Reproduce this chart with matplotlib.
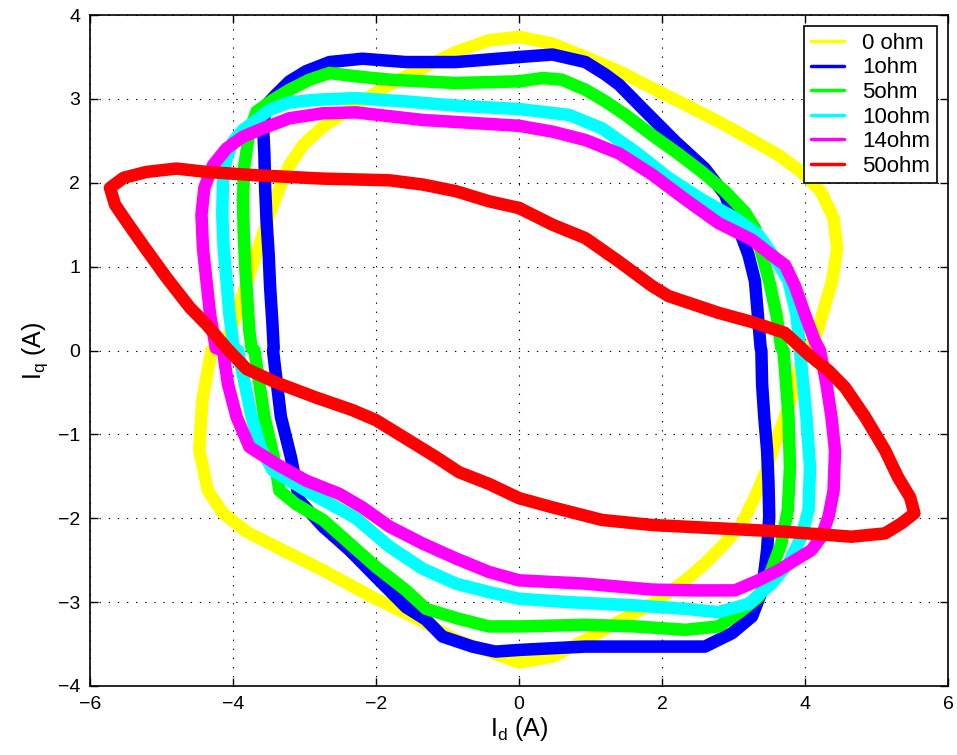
import matplotlib.pyplot as plt
import numpy as np

plt.rcParams['font.family'] = ['Liberation Sans', 'DejaVu Sans']
plt.rcParams['mathtext.fontset'] = 'custom'
plt.rcParams['mathtext.rm'] = 'Liberation Sans'

# loops of Iq vs Id (one cycle each)
x_0ohm = [0, -0.42, -0.88, -1.35, -1.81, -2.28, -2.74, -3.02, -3.21, -3.35, -3.49, -3.63, -3.77, -3.91, -4.05, -4.22,
          -4.30, -4.43, -4.47, -4.35, -4.14, -3.81, -3.40, -2.74, -2.05, -1.35, -0.88, -0.42, 0,
          0.47, 0.93, 1.40, 1.86, 2.33, 2.60, 2.88, 3.12, 3.30, 3.44, 3.58, 3.72, 3.86, 3.95,
          4.16, 4.38, 4.45, 4.40, 4.22, 3.95, 3.63, 3.26, 2.79, 2.33, 1.86, 1.40, 0.93, 0.47]
y_0ohm = [3.74, 3.70, 3.56, 3.37, 3.17, 2.93, 2.67, 2.45, 2.21, 1.94, 1.62, 1.26, 0.90, 0.55, 0.19, 0.06,
          0, -0.60, -1.19, -1.67, -1.94, -2.16, -2.34, -2.62, -2.94, -3.23, -3.45, -3.59, -3.72,
          -3.65, -3.45, -3.23, -3.02, -2.74, -2.54, -2.30, -2.06, -1.75, -1.47, -1.11, -0.79, -0.44, -0.12,
          0.19, 0.83, 1.22, 1.58, 1.90, 2.13, 2.33, 2.51, 2.73, 2.93, 3.13, 3.33, 3.50, 3.66]

x_1ohm = [0, -0.88, -1.58, -2.19, -2.65, -2.98, -3.21, -3.40, -3.53, -3.58, -3.56, -3.55, -3.53, -3.50, -3.48, -3.45, -3.43,
          -3.44, -3.33, -3.19, -3.07, -2.74, -2.37, -2.0, -1.58, -1.30, -1.07, -0.65, -0.33, 0,
          0.93, 2.09, 2.60, 2.98, 3.26, 3.40, 3.47, 3.50, 3.49, 3.47, 3.43, 3.40, 3.39,
          3.38, 3.30, 3.21, 3.07, 2.88, 2.60, 2.19, 1.77, 1.40, 1.21, 0.93, 0.47]
y_1ohm = [3.50, 3.44, 3.44, 3.48, 3.44, 3.33, 3.21, 3.05, 2.93, 2.69, 2.33, 1.94, 1.54, 1.14, 0.75, 0.35, 0.03,
          0, -0.79, -1.27, -1.79, -2.10, -2.38, -2.70, -3.06, -3.21, -3.41, -3.53, -3.59, -3.57,
          -3.53, -3.53, -3.53, -3.37, -3.17, -2.86, -2.38, -1.98, -1.59, -1.19, -0.79, -0.40, 0,
          0.03, 0.83, 1.14, 1.46, 1.86, 2.17, 2.49, 2.85, 3.17, 3.29, 3.44, 3.53]

x_5ohm = [0, -0.88, -1.81, -2.28, -2.65, -2.93, -3.21, -3.44, -3.67, -3.77, -3.84, -3.86, -3.85, -3.83, -3.80, -3.77, -3.74,
          -3.70, -3.56, -3.42, -3.35, -3.12, -2.74, -2.37, -2.0, -1.58, -1.30, -0.88, -0.42, 0,
          0.93, 1.63, 2.33, 2.79, 3.07, 3.35, 3.53, 3.67, 3.76, 3.79, 3.77, 3.70,
          3.67, 3.60, 3.51, 3.40, 3.30, 3.16, 2.88, 2.56, 2.19, 1.86, 1.49, 1.21, 0.93, 0.60, 0.33]
y_5ohm = [3.21, 3.19, 3.23, 3.27, 3.31, 3.23, 3.11, 2.99, 2.85, 2.61, 2.21, 1.82, 1.42, 1.02, 0.63, 0.23, 0.03,
          0, -0.79, -1.31, -1.67, -1.83, -2.02, -2.30, -2.58, -2.86, -3.08, -3.19, -3.29, -3.29,
          -3.27, -3.29, -3.33, -3.29, -3.13, -2.94, -2.62, -2.30, -1.90, -1.39, -0.79, 0,
          0.03, 0.43, 0.79, 1.14, 1.46, 1.65, 1.90, 2.13, 2.37, 2.57, 2.81, 2.97, 3.11, 3.23, 3.25]

x_10ohm = [0, -0.88, -1.58, -2.28, -2.84, -3.21, -3.49, -3.67, -3.86, -4.0, -4.09, -4.14, -4.15, -4.13, -4.09, -4.05, -3.99,
           -3.93, -3.74, -3.60, -3.44, -2.98, -2.28, -1.81, -1.35, -0.88, -0.42, 0,
           0.70, 1.63, 2.33, 2.79, 3.21, 3.53, 3.77, 3.95, 4.05, 4.07, 4.02, 3.93,
           3.93, 3.88, 3.77, 3.58, 3.35, 3.02, 2.56, 2.09, 1.63, 1.16, 0.70]
y_10ohm = [2.88, 2.92, 2.97, 3.01, 2.99, 2.96, 2.87, 2.75, 2.63, 2.49, 2.29, 2.02, 1.62, 1.22, 0.83, 0.43, 0.03,
           0, -0.79, -1.19, -1.43, -1.67, -2.0, -2.34, -2.60, -2.78, -2.88, -2.96,
           -3.0, -3.04, -3.08, -3.12, -3.02, -2.78, -2.54, -2.22, -1.90, -1.39, -0.79, 0,
           0.03, 0.43, 0.83, 1.10, 1.38, 1.58, 1.80, 2.06, 2.37, 2.65, 2.81]

x_14ohm = [0, -1.35, -2.28, -2.74, -3.21, -3.58, -3.86, -4.09, -4.28, -4.40, -4.44, -4.42, -4.37, -4.32, -4.24,
           -4.14, -4.07, -3.95, -3.77, -3.40, -2.98, -2.51, -2.19, -1.81, -1.35, -0.88, -0.42, 0,
           0.93, 1.86, 2.47, 3.02, 3.35, 3.63, 3.86, 4.09, 4.23, 4.33, 4.40, 4.42, 4.37, 4.30, 4.21,
           4.14, 4.0, 3.86, 3.72, 3.53, 3.26, 2.79, 2.33, 1.86, 1.40, 0.93, 0.47]
y_14ohm = [2.68, 2.75, 2.84, 2.83, 2.77, 2.65, 2.55, 2.41, 2.21, 1.94, 1.62, 1.22, 0.83, 0.43, 0.03,
           0, -0.40, -0.79, -1.15, -1.35, -1.55, -1.71, -1.87, -2.10, -2.30, -2.48, -2.64, -2.74,
           -2.78, -2.85, -2.86, -2.86, -2.74, -2.62, -2.50, -2.38, -2.22, -1.98, -1.67, -1.19, -0.79, -0.40, 0,
           0.11, 0.43, 0.77, 1.02, 1.14, 1.32, 1.52, 1.80, 2.10, 2.35, 2.51, 2.61]

x_50ohm = [0, -0.42, -0.88, -1.35, -1.81, -2.74, -3.67, -4.37, -4.79, -5.21, -5.53, -5.72, -5.65, -5.49, -5.26, -4.93, -4.60, -4.37, -4.09,
           -3.81, -3.40, -2.84, -2.33, -2.0, -1.58, -1.16, -0.84, -0.42, 0,
           0.47, 1.16, 1.86, 2.79, 3.72, 4.65, 5.12, 5.35, 5.53, 5.47, 5.30, 5.12, 4.84, 4.56, 4.33, 4.05,
           3.72, 3.26, 2.79, 2.09, 1.86, 1.40, 0.93, 0.47]
y_50ohm = [1.70, 1.78, 1.90, 1.98, 2.03, 2.05, 2.09, 2.13, 2.17, 2.13, 2.06, 1.94, 1.74, 1.54, 1.26, 0.87, 0.51, 0.31, 0.03,
           -0.22, -0.38, -0.56, -0.71, -0.83, -1.05, -1.27, -1.45, -1.59, -1.76,
           -1.87, -2.02, -2.08, -2.12, -2.16, -2.22, -2.18, -2.06, -1.94, -1.75, -1.51, -1.19, -0.79, -0.44, -0.24, -0.05,
           0.21, 0.34, 0.45, 0.65, 0.77, 1.06, 1.34, 1.50]

labels = ['0 ohm', '1ohm', '5ohm', '10ohm', '14ohm', '50ohm']
colors = ['#ffff00', '#0000ff', '#00ff00', '#00ffff', '#ff00ff', '#ff0000']
series = [(x_0ohm, y_0ohm), (x_1ohm, y_1ohm), (x_5ohm, y_5ohm),
          (x_10ohm, y_10ohm), (x_14ohm, y_14ohm), (x_50ohm, y_50ohm)]

fig = plt.figure(figsize=(9.57, 7.55), dpi=100)
ax = fig.add_axes([0.094, 0.0914, 0.8966, 0.8886])

for (xs, ys), c, lab in zip(series, colors, labels):
    xs = np.append(xs, xs[0])   # close the loop
    ys = np.append(ys, ys[0])
    ax.plot(xs, ys, color=c, lw=9, solid_joinstyle='round', solid_capstyle='round', label=lab)

ax.set_xlim(-6, 6)
ax.set_ylim(-4, 4)
ax.set_xticks(np.arange(-6, 7, 2))
ax.set_yticks(np.arange(-4, 5, 1))
ax.grid(True, color='black', lw=0.8, linestyle=(0, (1.2, 7)))
ax.tick_params(direction='in', top=True, right=True, length=6, width=1, labelsize=14, pad=7)
for sp in ax.spines.values():
    sp.set_linewidth(1.2)

ax.set_xlabel(r'I$_{\rm d}$ (A)', fontsize=18, labelpad=2)
ax.set_ylabel(r'I$_{\rm q}$ (A)', fontsize=18, labelpad=6)

leg = ax.legend(loc='upper right', fontsize=16, fancybox=False, framealpha=1,
                edgecolor='black', handlelength=1.5, labelspacing=0.16,
                borderaxespad=0.5, handletextpad=0.8, borderpad=0.3)
leg.get_frame().set_linewidth(1.2)
for h in leg.legend_handles:
    h.set_linewidth(2.5)

fig.savefig('out.png', dpi=100)
